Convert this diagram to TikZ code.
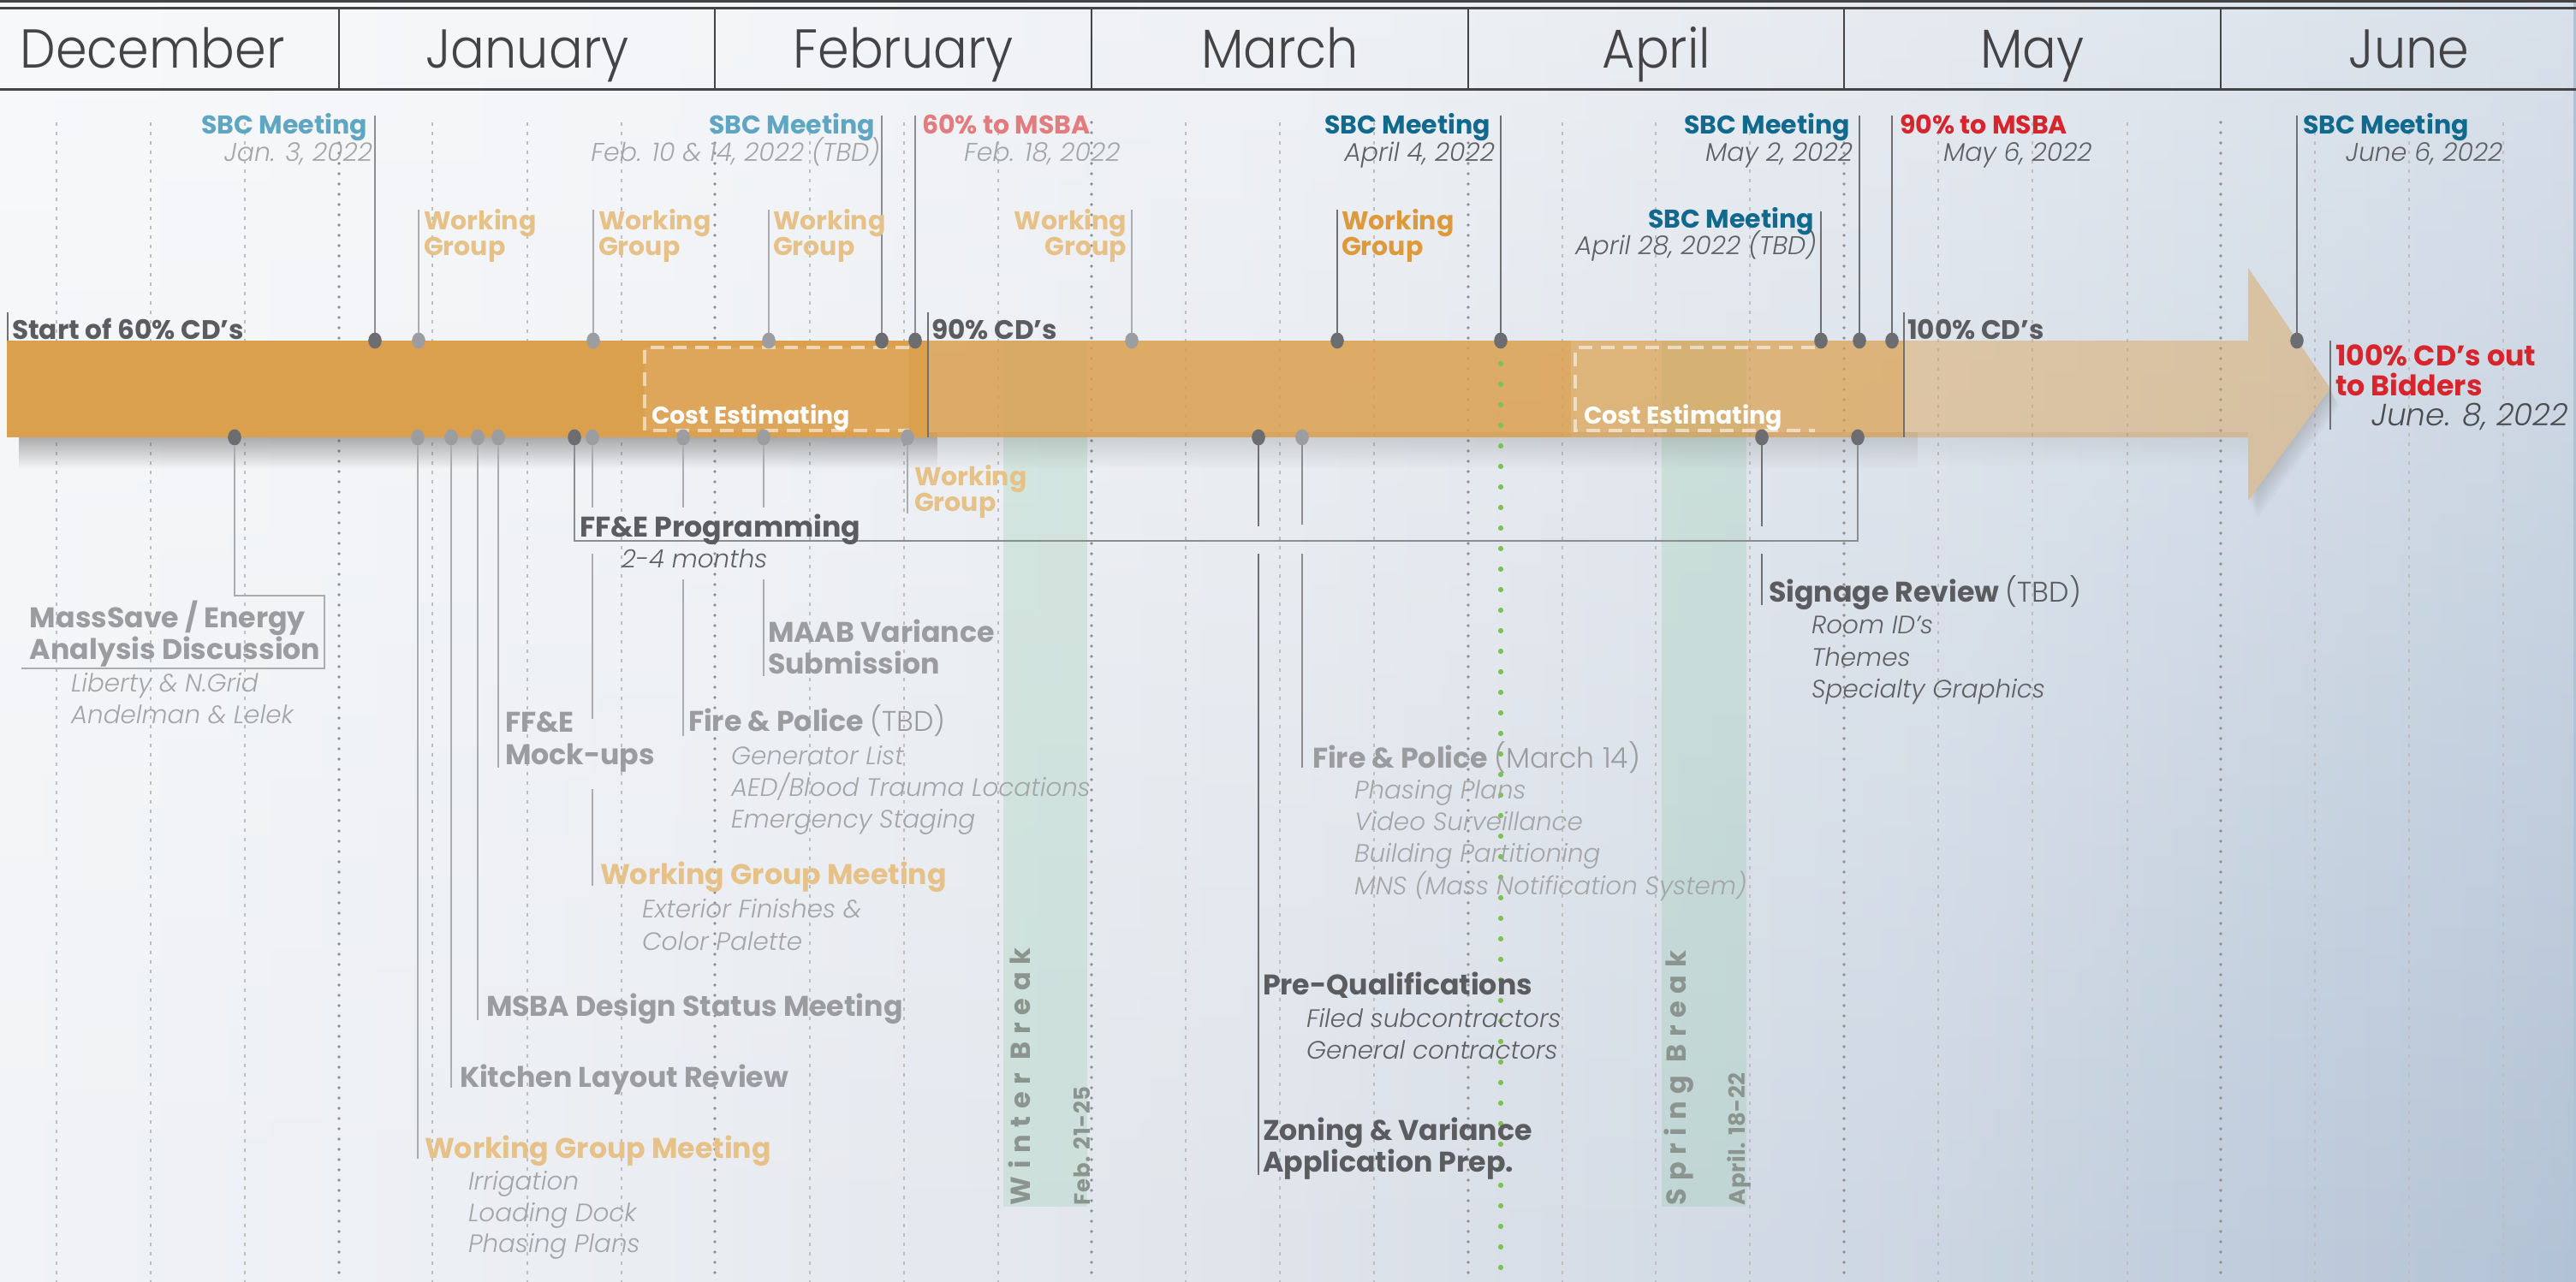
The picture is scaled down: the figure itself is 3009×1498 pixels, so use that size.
\documentclass[tikz,border=0pt]{standalone}
\usepackage{fontspec}
\usetikzlibrary{shapes.geometric,fadings}
\IfFontExistsTF{Poppins Bold}{%
  \newfontfamily\fB{Poppins Bold}%
  \newfontfamily\fSp{Poppins Bold}[LetterSpace=27]%
  \newfontfamily\fSq{Poppins Bold}[LetterSpace=2]}{%
  \newfontfamily\fB{Poppins SemiBold}%
  \newfontfamily\fSp{Poppins SemiBold}[LetterSpace=30]%
  \newfontfamily\fSq{Poppins SemiBold}[LetterSpace=3]}
\IfFontExistsTF{Poppins Light}{\newfontfamily\fL{Poppins Light}\newfontfamily\fM{Poppins Light}[FakeStretch=0.92]}{\newfontfamily\fL{Poppins}\newfontfamily\fM{Poppins}[FakeStretch=0.92]}
\IfFontExistsTF{Poppins Light Italic}{\newfontfamily\fLI{Poppins Light Italic}}{\newfontfamily\fLI{Poppins Italic}}

\definecolor{bh0}{HTML}{F1F3F6}
\definecolor{bh1}{HTML}{EAEDF2}
\definecolor{bh2}{HTML}{DFE4EB}
\definecolor{bh3}{HTML}{CCD6E2}
\definecolor{bh4}{HTML}{B2C2D5}
\definecolor{hdr}{HTML}{444446}
\definecolor{dk}{HTML}{5B5C60}
\definecolor{md}{HTML}{9B9C9F}
\definecolor{orF}{HTML}{E6C289}
\definecolor{orS}{HTML}{DD9A3C}
\definecolor{tlF}{HTML}{5EA6C2}
\definecolor{tlS}{HTML}{11698E}
\definecolor{rdS}{HTML}{D6252C}
\definecolor{rdF}{HTML}{E37C7F}
\definecolor{dtF}{HTML}{A4A5A7}
\definecolor{dtS}{HTML}{5F6063}
\definecolor{pinD}{HTML}{6B6D71}
\definecolor{pinL}{HTML}{9C9DA0}
\definecolor{cD}{HTML}{6E7074}
\definecolor{cM}{HTML}{8C8D90}
\definecolor{cL}{HTML}{ABACAF}
\definecolor{barA}{HTML}{DBA04E}
\definecolor{gridL}{HTML}{BDBEC0}
\definecolor{gridD}{HTML}{8E8F92}
\definecolor{grn}{HTML}{7DC153}
\definecolor{band}{HTML}{7DC49A}
\definecolor{bandtx}{HTML}{8C948F}
\definecolor{jdate}{HTML}{4B4C50}

\pgfdeclarehorizontalshading{bgsh}{100bp}{color(0bp)=(bh0); color(25bp)=(bh0); color(37.5bp)=(bh1); color(50bp)=(bh2); color(62.5bp)=(bh3); color(75bp)=(bh4); color(100bp)=(bh4)}
\tikzfading[name=shfade, top color=transparent!0, bottom color=transparent!100]
\tikzfading[name=wfade, top color=transparent!50, bottom color=transparent!100]

\begin{document}
\begin{tikzpicture}[x=0.25pt,y=-0.25pt,
  every node/.style={inner sep=0pt, outer sep=0pt},
  mon/.style={font=\fM\fontsize{16}{16}\selectfont, text=hdr},
  lblB/.style={font=\fB\fontsize{7.5}{7.5}\selectfont},
  dateI/.style={font=\fLI\fontsize{7.5}{7.5}\selectfont},
  barL/.style={font=\fB\fontsize{7.8}{7.8}\selectfont, text=dk},
  redL/.style={font=\fB\fontsize{8.3}{8.3}\selectfont, text=rdS},
  lowB/.style={font=\fB\fontsize{8.3}{8.3}\selectfont},
  subI/.style={font=\fLI\fontsize{7.35}{7.35}\selectfont},
  ceT/.style={font=\fB\fontsize{7.1}{7.1}\selectfont, text=white},
  bandB/.style={font=\fSp\fontsize{8}{8}\selectfont, text=bandtx, rotate=90, anchor=base west},
  bandS/.style={font=\fSq\fontsize{6.5}{6.5}\selectfont, text=bandtx, rotate=90, anchor=base west},
  dotD/.style={ellipse, fill=pinD, minimum width=3.9pt, minimum height=4.7pt},
  dotL/.style={ellipse, fill=pinL, minimum width=3.9pt, minimum height=4.7pt},
  conn/.style={draw, line width=0.4pt},
  gridl/.style={draw=gridL, line width=0.35pt, dash pattern=on 1pt off 1.75pt},
  gridd/.style={draw=gridD, line width=0.9pt, line cap=round, dash pattern=on 0pt off 3pt},
  cebox/.style={draw=white, draw opacity=0.55, line width=1pt, dash pattern=on 4pt off 2.5pt},
]
\useasboundingbox (0,0) rectangle (3009,1498);
\shade[shading=bgsh] (0,0) rectangle (3009,1498);
\fill[white, path fading=wfade] (0,0) rectangle (3009,1498);

% ---------- header ----------
\draw[hdr, line width=0.75pt] (0,1.3) -- (3009,1.3);
\draw[hdr, line width=0.6pt] (0,9.5) -- (3009,9.5);
\draw[hdr, line width=0.7pt] (0,104.5) -- (3009,104.5);
\foreach \x in {396,835,1275,1715,2154,2594}{\draw[hdr, line width=0.6pt] (\x,9.5) -- (\x,104.5);}
\node[mon, anchor=base] (mDec) at (178,80) {December};
\node[mon, anchor=base] (mJan) at (616,80) {January};
\node[mon, anchor=base] (mFeb) at (1055,80) {February};
\node[mon, anchor=base] (mMar) at (1495,80) {March};
\node[mon, anchor=base] (mApr) at (1935,80) {April};
\node[mon, anchor=base] (mMay) at (2374,80) {May};
\node[mon, anchor=base] (mJun) at (2814,80) {June};

% ---------- grid ----------
\foreach \x in {66,176,286,505,616,726,946,1056,1166,1385,1495,1605,1825,1934,2044,2264,2374,2485,2704,2814,2924}{\draw[gridl] (\x,143) -- (\x,1498);}
\foreach \x in {396,835,1275,1715,2154,2594}{\draw[gridd] (\x,143) -- (\x,1498);}

% ---------- breaks ----------
\fill[band, opacity=0.22] (1172,398) rectangle (1270,1410);
\fill[band, opacity=0.22] (1941,398) rectangle (2040,1410);
\node[bandB] (wb) at (1203,1408) {Winter Break};
\node[bandS] (wbd) at (1273,1408) {Feb. 21-25};
\node[bandB] (sb) at (1969,1408) {Spring Break};
\node[bandS] (sbd) at (2038,1408) {April. 18-22};

% ---------- bar ----------
\fill[black!70, path fading=shfade, opacity=0.5] (22,505) rectangle (1095,548);
\fill[black!70, path fading=shfade, opacity=0.22] (1095,505) rectangle (2240,548);
\fill[black!70, path fading=shfade, opacity=0.10] (2240,505) rectangle (2626,545);
\begin{scope}
  \clip (0,0) -- (3009,0) -- (3009,1498) -- (0,1498) -- cycle
        (2224,398) -- (2224,511) -- (2626,511) -- (2626,585) -- (2722,454) -- (2626,313) -- (2626,398) -- cycle;
  \foreach \d in {3,6,...,21}{\fill[black, opacity=0.018, shift={(\d*0.5,\d)}] (2626,313) -- (2722,454) -- (2626,585) -- cycle;}
\end{scope}
\fill[barA] (8,398) rectangle (1084,511);
\fill[barA, opacity=0.85] (1084,398) rectangle (1835,511);
\fill[barA, opacity=0.72] (1835,398) rectangle (2224,511);
\fill[barA, opacity=0.45] (2224,398) -- (2626,398) -- (2626,313) -- (2722,454) -- (2626,585) -- (2626,511) -- (2224,511) -- cycle;
\fill[white, opacity=0.07] (753,406) rectangle (1062,503);
\draw[cebox] (1062,406) -- (753,406) -- (753,503) -- (1062,503);
\draw[cebox] (2120,406) -- (1840,406) -- (1840,503) -- (2120,503);
\node[ceT, anchor=base west] (ce1) at (761,495) {Cost Estimating};
\node[ceT, anchor=base west] (ce2) at (1850,495) {Cost Estimating};

% green dotted line
\coordinate (g1) at (1753,425);
\coordinate (g2) at (1753,1498);
\draw[grn, line width=1.55pt, line cap=round, dash pattern=on 0pt off 6pt] (g1) -- (g2);

% bar milestone labels
\coordinate (s60a) at (9,365); \coordinate (s60b) at (9,398);
\draw[conn, cD] (s60a) -- (s60b);
\node[barL, anchor=base west] (s60) at (14,397) {Start of 60\% CD’s};
\coordinate (s90a) at (1084,365); \coordinate (s90b) at (1084,511);
\draw[conn, cD] (s90a) -- (s90b);
\node[barL, anchor=base west] (s90) at (1088,397) {90\% CD’s};
\coordinate (s100a) at (2224,365); \coordinate (s100b) at (2224,511);
\draw[conn, cD] (s100a) -- (s100b);
\node[barL, anchor=base west] (s100) at (2228,397) {100\% CD’s};
\coordinate (outa) at (2722,398); \coordinate (outb) at (2722,502);
\draw[conn, cD] (outa) -- (outb);
\node[redL, anchor=base west] (out1) at (2728,427) {100\% CD’s out};
\node[redL, anchor=base west] (out2) at (2728,462) {to Bidders};
\node[font=\fLI\fontsize{9}{9}\selectfont, text=jdate, anchor=base east] (outd) at (3000,497) {June. 8, 2022};

% ---------- top pins ----------
\foreach \n/\x/\t/\s/\c in {1/438/135/dotD/cM, 2/489/245/dotL/cL, 3/693/245/dotL/cL, 4/898/245/dotL/cL, 5/1030/135/dotD/cM, 6/1069/135/dotD/cM, 7/1322/245/dotL/cL, 8/1562/245/dotD/cD, 9/1753/135/dotD/cD, 10/2127/247/dotD/cD, 11/2172/135/dotD/cD, 12/2210/135/dotD/cD, 13/2683/135/dotD/cD}{
  \node[\s] (T\n) at (\x,398) {};
  \coordinate (T\n t) at (\x,\t);
  \draw[conn, \c] (T\n t) -- (T\n.north);
}

% top labels
\node[lblB, text=tlF, anchor=base east] (sbc1) at (429,157) {SBC Meeting};
\node[dateI, text=dtF, anchor=base east] (sbc1d) at (435,189) {Jan. 3, 2022};
\node[lblB, text=orF, anchor=base west] (wg1a) at (495,268) {Working};
\node[lblB, text=orF, anchor=base west] (wg1b) at (495,298) {Group};
\node[lblB, text=orF, anchor=base west] (wg2a) at (699,268) {Working};
\node[lblB, text=orF, anchor=base west] (wg2b) at (699,298) {Group};
\node[lblB, text=orF, anchor=base west] (wg3a) at (903,268) {Working};
\node[lblB, text=orF, anchor=base west] (wg3b) at (903,298) {Group};
\node[lblB, text=tlF, anchor=base east] (sbc2) at (1022,157) {SBC Meeting};
\node[dateI, text=dtF, anchor=base east] (sbc2d) at (1028,189) {Feb. 10 \& 14, 2022 (TBD)};
\node[lblB, text=rdF, anchor=base west] (m60) at (1077,157) {60\% to MSBA};
\node[dateI, text=dtF, anchor=base west] (m60d) at (1126,189) {Feb. 18, 2022};
\node[lblB, text=orF, anchor=base east] (wg4a) at (1316,268) {Working};
\node[lblB, text=orF, anchor=base east] (wg4b) at (1316,298) {Group};
\node[lblB, text=orS, anchor=base west] (wg5a) at (1567,268) {Working};
\node[lblB, text=orS, anchor=base west] (wg5b) at (1567,298) {Group};
\node[lblB, text=tlS, anchor=base east] (sbc3) at (1741,157) {SBC Meeting};
\node[dateI, text=dtS, anchor=base east] (sbc3d) at (1746,189) {April 4, 2022};
\node[lblB, text=tlS, anchor=base east] (sbc4) at (2119,267) {SBC Meeting};
\node[dateI, text=dtS, anchor=base east] (sbc4d) at (2122,297) {April 28, 2022 (TBD)};
\node[lblB, text=tlS, anchor=base east] (sbc5) at (2161,157) {SBC Meeting};
\node[dateI, text=dtS, anchor=base east] (sbc5d) at (2164,189) {May 2, 2022};
\node[lblB, text=rdS, anchor=base west] (m90) at (2219,157) {90\% to MSBA};
\node[dateI, text=dtS, anchor=base west] (m90d) at (2270,189) {May 6, 2022};
\node[lblB, text=tlS, anchor=base west] (sbc6) at (2690,157) {SBC Meeting};
\node[dateI, text=dtS, anchor=base west] (sbc6d) at (2740,189) {June 6, 2022};

% ---------- bottom pins ----------
\foreach \n/\x/\s in {1/274/dotD, 2/488/dotL, 3/527/dotL, 4/558/dotL, 5/582/dotL, 6/671/dotD, 7/692/dotL, 8/798/dotL, 9/892/dotL, 10/1060/dotL, 11/1470/dotD, 12/1521/dotL, 13/2058/dotD, 14/2170/dotD}{
  \node[\s] (B\n) at (\x,511) {};
}
% MassSave bracket
\coordinate (ms1) at (379,696); \coordinate (ms2) at (379,781); \coordinate (ms3) at (25,781);
\draw[conn, cL] (B1.south) |- (ms1) -- (ms2) -- (ms3);
% simple drops
\coordinate (b2e) at (488,1354); \draw[conn, cL] (B2.south) -- (b2e);
\coordinate (b3e) at (527,1271); \draw[conn, cL] (B3.south) -- (b3e);
\coordinate (b4e) at (558,1192); \draw[conn, cL] (B4.south) -- (b4e);
\coordinate (b5e) at (582,897); \draw[conn, cL] (B5.south) -- (b5e);
% FF&E programming bracket
\coordinate (ffL) at (671,632); \coordinate (ffR) at (2170,632);
\draw[conn, cM] (B6.south) -- (ffL) -- (ffR) -- (B14.south);
% B7 with gaps
\coordinate (b7a) at (692,593); \coordinate (b7b) at (692,647); \coordinate (b7c) at (692,840);
\coordinate (b7d) at (692,922); \coordinate (b7e) at (692,1035);
\draw[conn, cL] (B7.south) -- (b7a); \draw[conn, cL] (b7b) -- (b7c); \draw[conn, cL] (b7d) -- (b7e);
% B8, B9
\coordinate (b8a) at (798,593); \coordinate (b8b) at (798,677); \coordinate (b8c) at (798,860);
\draw[conn, cL] (B8.south) -- (b8a); \draw[conn, cL] (b8b) -- (b8c);
\coordinate (b9a) at (892,593); \coordinate (b9b) at (892,677); \coordinate (b9c) at (892,790);
\draw[conn, cL] (B9.south) -- (b9a); \draw[conn, cL] (b9b) -- (b9c);
\coordinate (b10e) at (1060,600); \draw[conn, cL] (B10.south) -- (b10e);
% B11, B12, B13
\coordinate (b11a) at (1470,615); \coordinate (b11b) at (1470,647); \coordinate (b11c) at (1470,1373);
\draw[conn, cD] (B11.south) -- (b11a); \draw[conn, cD] (b11b) -- (b11c);
\coordinate (b12a) at (1521,613); \coordinate (b12b) at (1521,647); \coordinate (b12c) at (1521,897);
\draw[conn, cM] (B12.south) -- (b12a); \draw[conn, cM] (b12b) -- (b12c);
\coordinate (b13a) at (2058,615); \coordinate (b13b) at (2058,647); \coordinate (b13c) at (2058,707);
\draw[conn, cD] (B13.south) -- (b13a); \draw[conn, cD] (b13b) -- (b13c);

% ---------- bottom labels ----------
\node[lowB, text=md, anchor=base west] (ms) at (35,733) {MassSave / Energy};
\node[lowB, text=md, anchor=base west] (msb) at (35,770) {Analysis Discussion};
\node[subI, text=dtF, anchor=base west] (ms1t) at (83,808) {Liberty \& N.Grid};
\node[subI, text=dtF, anchor=base west] (ms2t) at (83,845) {Andelman \& Lelek};

\node[lowB, text=dk, anchor=base west] (ffp) at (677,627) {FF\&E Programming};
\node[subI, text=dtS, anchor=base west] (ffpd) at (726,663) {2-4 months};

\node[lowB, text=md, anchor=base west] (maab) at (897,750) {MAAB Variance};
\node[lowB, text=md, anchor=base west] (maabb) at (897,787) {Submission};

\node[lowB, text=md, anchor=base west] (ffm) at (590,855) {FF\&E};
\node[lowB, text=md, anchor=base west] (ffmb) at (590,893) {Mock-ups};

\node[lowB, text=md, anchor=base west] (fp1) at (804,854) {Fire \& Police {\fL(TBD)}};
\node[subI, text=dtF, anchor=base west] (fp1a) at (854,893) {Generator List};
\node[subI, text=dtF, anchor=base west] (fp1b) at (854,930) {AED/Blood Trauma Locations};
\node[subI, text=dtF, anchor=base west] (fp1c) at (854,967) {Emergency Staging};

\node[lowB, text=orF, anchor=base west] (wgm1) at (701,1033) {Working Group Meeting};
\node[subI, text=dtF, anchor=base west] (wgm1a) at (750,1072) {Exterior Finishes \&};
\node[subI, text=dtF, anchor=base west] (wgm1b) at (750,1110) {Color Palette};

\node[lowB, text=md, anchor=base west] (msba) at (568,1187) {MSBA Design Status Meeting};
\node[lowB, text=md, anchor=base west] (kit) at (537,1270) {Kitchen Layout Review};

\node[lowB, text=orF, anchor=base west] (wgm2) at (496,1353) {Working Group Meeting};
\node[subI, text=dtF, anchor=base west] (wgm2a) at (547,1390) {Irrigation};
\node[subI, text=dtF, anchor=base west] (wgm2b) at (547,1427) {Loading Dock};
\node[subI, text=dtF, anchor=base west] (wgm2c) at (547,1463) {Phasing Plans};

\node[lblB, text=orF, anchor=base west] (wg6a) at (1068,567) {Working};
\node[lblB, text=orF, anchor=base west] (wg6b) at (1068,597) {Group};

\node[lowB, text=md, anchor=base west] (fp2) at (1533,897) {Fire \& Police {\fL(March 14)}};
\node[subI, text=dtF, anchor=base west] (fp2a) at (1582,933) {Phasing Plans};
\node[subI, text=dtF, anchor=base west] (fp2b) at (1582,970) {Video Surveillance};
\node[subI, text=dtF, anchor=base west] (fp2c) at (1582,1007) {Building Partitioning};
\node[subI, text=dtF, anchor=base west] (fp2d) at (1582,1045) {MNS (Mass Notification System)};

\node[lowB, text=dk, anchor=base west] (sig) at (2066,703) {Signage Review {\fL(TBD)}};
\node[subI, text=dtS, anchor=base west] (siga) at (2116,740) {Room ID’s};
\node[subI, text=dtS, anchor=base west] (sigb) at (2116,778) {Themes};
\node[subI, text=dtS, anchor=base west] (sigc) at (2116,815) {Specialty Graphics};

\node[lowB, text=dk, anchor=base west] (pq) at (1475,1162) {Pre-Qualifications};
\node[subI, text=dtS, anchor=base west] (pqa) at (1526,1200) {Filed subcontractors};
\node[subI, text=dtS, anchor=base west] (pqb) at (1526,1237) {General contractors};

\node[lowB, text=dk, anchor=base west] (zn) at (1475,1332) {Zoning \& Variance};
\node[lowB, text=dk, anchor=base west] (znb) at (1475,1369) {Application Prep.};
\end{tikzpicture}
\end{document}
